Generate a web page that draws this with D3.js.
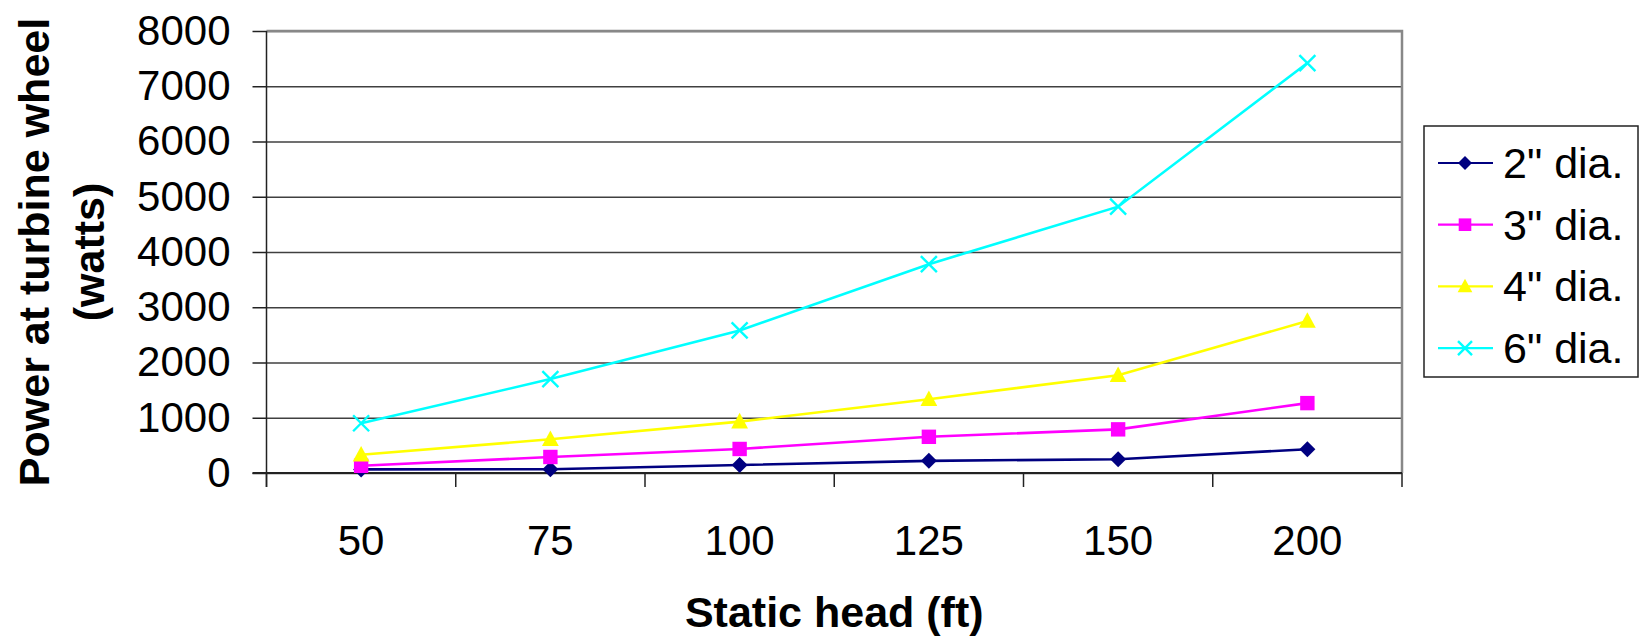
<!DOCTYPE html>
<html>
<head>
<meta charset="utf-8">
<script src="https://cdn.jsdelivr.net/npm/d3@7"></script>
<style>
  body { margin: 0; background: #fff; }
  text { font-family: "Liberation Sans", Arial, sans-serif; }
</style>
</head>
<body>
<div id="viz"></div>
<script>
// data
const heads = ["50", "75", "100", "125", "150", "200"]
const dia2 = [65, 68, 145, 220, 250, 430]
const dia3 = [130, 290, 435, 655, 790, 1265]
const dia4 = [330, 610, 930, 1335, 1770, 2750]
const dia6 = [900, 1700, 2580, 3780, 4820, 7420]
const yTicks = [0, 1000, 2000, 3000, 4000, 5000, 6000, 7000, 8000]
const seriesNames = ['2" dia.', '3" dia.', '4" dia.', '6" dia.']

const colors = {
    navy: "#000080",
    magenta: "#ff00ff",
    yellow: "#ffff00",
    cyan: "#00ffff",
    grid: "#404040",
    frame: "#888888"
}

const series = [
    { name: seriesNames[0], values: dia2, color: colors.navy, marker: "diamond" },
    { name: seriesNames[1], values: dia3, color: colors.magenta, marker: "square" },
    { name: seriesNames[2], values: dia4, color: colors.yellow, marker: "triangle" },
    { name: seriesNames[3], values: dia6, color: colors.cyan, marker: "cross" }
]

const width = 1640, height = 640
const plot = { left: 266.5, right: 1402, top: 31, bottom: 473 }

const svg = d3.select("#viz").append("svg")
    .attr("width", width).attr("height", height)

svg.append("rect").attr("width", width).attr("height", height).attr("fill", "#fff")

const x = d3.scaleBand().domain(heads).range([plot.left, plot.right]).padding(0)
const y = d3.scaleLinear().domain([0, 8000]).range([plot.bottom, plot.top])

// gridlines
svg.append("g")
    .attr("transform", `translate(${plot.left},0)`)
    .call(d3.axisLeft(y).tickValues(yTicks).tickSize(-(plot.right - plot.left)).tickFormat(""))
    .call(g => g.select(".domain").remove())
    .call(g => g.selectAll("line").attr("stroke", colors.grid).attr("stroke-width", 1.5))

// plot frame top/right (grey)
svg.append("path")
    .attr("d", `M${plot.left},${plot.top} H${plot.right} V${plot.bottom}`)
    .attr("fill", "none").attr("stroke", colors.frame).attr("stroke-width", 2.5)

// y axis
const yAxis = svg.append("g")
    .attr("transform", `translate(${plot.left},0)`)
    .call(d3.axisLeft(y).tickValues(yTicks).tickFormat(d3.format("d"))
        .tickSize(14).tickPadding(22).tickSizeOuter(0))
yAxis.select(".domain").attr("stroke", "#222").attr("stroke-width", 1.5)
    .attr("d", `M0,${plot.top}V${plot.bottom + 14}`)
yAxis.selectAll("line").attr("stroke", "#222").attr("stroke-width", 1.5)
yAxis.selectAll("text").attr("font-size", 42).attr("fill", "#000")
    .style("font-family", '"Liberation Sans", Arial, sans-serif')

// x axis: ticks on category boundaries
const xAxis = svg.append("g").attr("transform", `translate(0,${plot.bottom})`)
xAxis.append("line").attr("x1", plot.left - 14).attr("x2", plot.right)
    .attr("stroke", "#222").attr("stroke-width", 2)
const bounds = heads.map(h => x(h)).concat([x(heads[heads.length - 1]) + x.bandwidth()])
xAxis.selectAll(".bt").data(bounds).join("line")
    .attr("x1", d => d).attr("x2", d => d).attr("y1", 0).attr("y2", 14)
    .attr("stroke", "#222").attr("stroke-width", 1.5)
xAxis.selectAll(".lbl").data(heads).join("text")
    .attr("x", d => x(d) + x.bandwidth() / 2).attr("y", 82)
    .attr("text-anchor", "middle").attr("font-size", 42).text(d => d)

// axis titles
svg.append("text")
    .attr("x", (plot.left + plot.right) / 2).attr("y", 627)
    .attr("text-anchor", "middle").attr("font-size", 43).attr("font-weight", "bold")
    .text("Static head (ft)")

const yTitle = svg.append("text")
    .attr("transform", `translate(0,${(plot.top + plot.bottom) / 2}) rotate(-90)`)
    .attr("text-anchor", "middle").attr("font-size", 43).attr("font-weight", "bold")
yTitle.append("tspan").attr("x", 0).attr("y", 49).text("Power at turbine wheel")
yTitle.append("tspan").attr("x", 0).attr("y", 104).text("(watts)")

// markers
const drawMarker = (sel, type, color, s) => {
    if (type === "diamond") {
        sel.append("path").attr("d", `M0,${-s}L${s},0L0,${s}L${-s},0Z`).attr("fill", color)
    } else if (type === "square") {
        sel.append("rect").attr("x", -s * 0.9).attr("y", -s * 0.9)
            .attr("width", s * 1.8).attr("height", s * 1.8).attr("fill", color)
    } else if (type === "triangle") {
        sel.append("path").attr("d", `M0,${-s * 1.1}L${s * 1.05},${s * 0.85}L${-s * 1.05},${s * 0.85}Z`).attr("fill", color)
    } else {
        sel.append("path").attr("d", `M${-s},${-s}L${s},${s}M${-s},${s}L${s},${-s}`)
            .attr("stroke", color).attr("stroke-width", 2.4).attr("fill", "none")
    }
}

const line = d3.line()
    .x((d, i) => x(heads[i]) + x.bandwidth() / 2)
    .y(d => y(d))

series.forEach(s => {
    const g = svg.append("g")
    g.append("path").datum(s.values).attr("d", line)
        .attr("fill", "none").attr("stroke", s.color).attr("stroke-width", 2.6)
    s.values.forEach((v, i) => {
        const m = g.append("g").attr("transform", `translate(${x(heads[i]) + x.bandwidth() / 2},${y(v)})`)
        drawMarker(m, s.marker, s.color, 8)
    })
})

// legend
const legend = svg.append("g")
legend.append("rect").attr("x", 1424).attr("y", 126).attr("width", 214).attr("height", 251)
    .attr("fill", "#fff").attr("stroke", "#222").attr("stroke-width", 1.5)
series.forEach((s, i) => {
    const cy = 163 + i * 61.7
    legend.append("line").attr("x1", 1438).attr("x2", 1493).attr("y1", cy).attr("y2", cy)
        .attr("stroke", s.color).attr("stroke-width", 2.2)
    drawMarker(legend.append("g").attr("transform", `translate(1465,${cy})`), s.marker, s.color, 7)
    legend.append("text").attr("x", 1503).attr("y", cy + 15).attr("font-size", 43).text(s.name)
})
</script>
</body>
</html>
